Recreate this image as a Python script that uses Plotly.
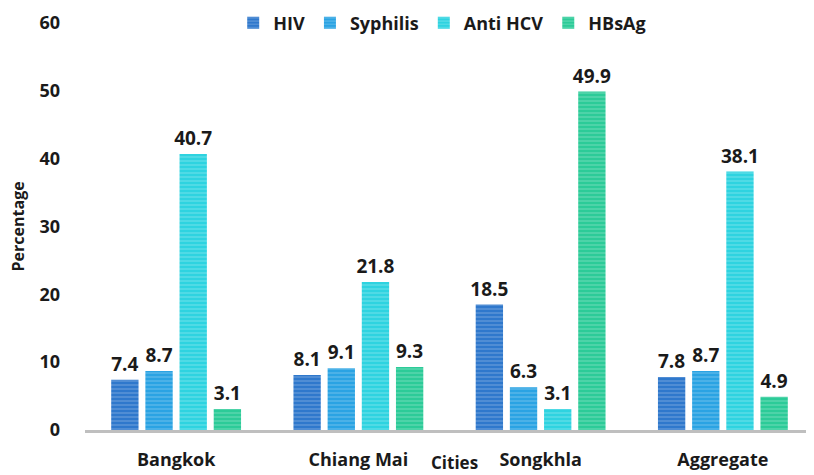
import plotly.graph_objects as go

cities = ["Bangkok", "Chiang Mai", "Songkhla", "Aggregate"]
series_names = ["HIV", "Syphilis", "Anti HCV", "HBsAg"]
hiv = [7.4, 8.1, 18.5, 7.8]
syphilis = [8.7, 9.1, 6.3, 8.7]
anti_hcv = [40.7, 21.8, 3.1, 38.1]
hbsag = [3.1, 9.3, 49.9, 4.9]
y_ticks = [0, 10, 20, 30, 40, 50, 60]

colors = ["#2F78CC", "#2AA3E3", "#2ED3E0", "#2CCB98"]
values = [hiv, syphilis, anti_hcv, hbsag]

FONT = "Open Sans"
fig = go.Figure()
for name, vals, col in zip(series_names, values, colors):
    fig.add_trace(go.Bar(
        x=cities, y=vals, name=name,
        marker=dict(color=col, line=dict(width=0),
                    pattern=dict(shape="-", fgcolor="rgba(255,255,255,0.45)",
                                 size=4, solidity=0.35, fillmode="overlay")),
        text=[f"{v:.1f}" for v in vals], textposition="outside",
        textfont=dict(family=FONT, size=19, color="#1a1a1a", weight="bold"),
        constraintext="none",
        cliponaxis=False,
    ))

fig.update_layout(
    width=806, height=467,
    margin=dict(l=77, r=0, t=15, b=45, autoexpand=False),
    paper_bgcolor="white", plot_bgcolor="white",
    barmode="group", bargap=0.25, bargroupgap=0.2,
    font=dict(family=FONT, color="#1a1a1a"),
    legend=dict(orientation="h", x=0.49, xanchor="center", y=1.0, yanchor="middle",
                font=dict(family=FONT, size=18, weight="bold"),
                traceorder="normal", bgcolor="rgba(0,0,0,0)"),
    xaxis=dict(showgrid=False, showline=True, linecolor="#BFBFBF", linewidth=3,
               ticks="", tickfont=dict(family=FONT, size=18, weight="bold"),
               ticklabelstandoff=11, automargin=False),
    yaxis=dict(range=[0, 60], tickvals=y_ticks, showgrid=False, showline=False,
               zeroline=False, ticks="",
               tickfont=dict(family=FONT, size=18, weight="bold"),
               ticklabelstandoff=24, automargin=False),
    annotations=[
        dict(text="Cities", xref="paper", yref="paper", x=0.5075, y=-0.079,
             showarrow=False, yanchor="middle", xanchor="center",
             font=dict(family=FONT, size=17, weight="bold")),
        dict(text="Percentage", xref="paper", yref="paper", x=-0.092, y=0.5,
             textangle=-90, showarrow=False, xanchor="center", yanchor="middle",
             font=dict(family=FONT, size=16, weight="bold")),
    ],
)

fig.write_html("out.html")
